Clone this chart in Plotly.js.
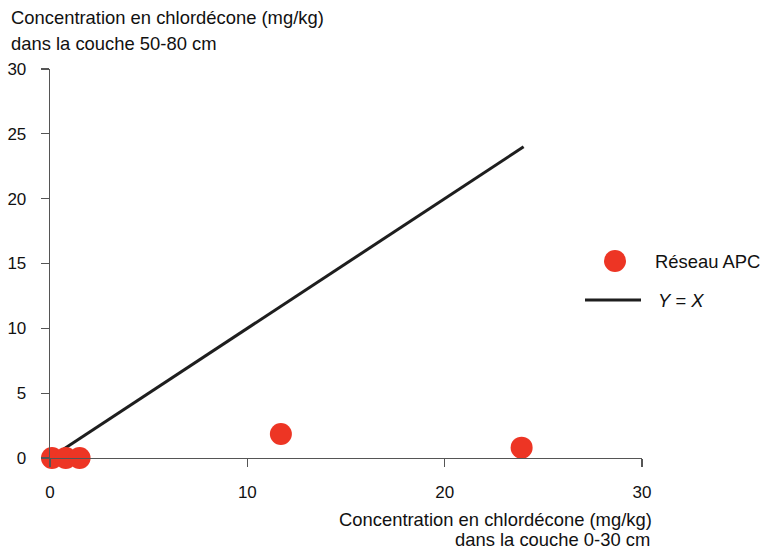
<!DOCTYPE html>
<html>
<head>
<meta charset="utf-8">
<script src="https://cdn.plot.ly/plotly-3.0.1.min.js"></script>
<style>html,body{margin:0;padding:0;background:#fff;}#chart{width:763px;height:552px;}</style>
</head>
<body>
<div id="chart"></div>
<script>
// Data
const xTopsoil = [0.1, 0.8, 1.5, 11.7, 23.9];
const yDeep = [0, 0, 0, 1.85, 0.8];
const lineX = [0.7, 24];
const lineY = [0.7, 24];
const seriesName = "Réseau APC";
const lineName = "Y = X";
const yTitleLines = ["Concentration en chlordécone (mg/kg)", "dans la couche 50-80 cm"];
const xTitleLines = ["Concentration en chlordécone (mg/kg)", "dans la couche 0-30 cm"];
const tickVals = [0, 5, 10, 15, 20, 25, 30];
const xTickVals = [0, 10, 20, 30];

const W = 763, H = 552;
const M = {l: 50, r: 121, t: 69, b: 94};
const pw = W - M.l - M.r, ph = H - M.t - M.b;
const px = x => (x - M.l) / pw;
const py = y => (H - M.b - y) / ph;

const red = "#ED3524";
const font = "Liberation Sans, Arial, Helvetica, sans-serif";

const traces = [
  {x: lineX, y: lineY, mode: "lines", line: {color: "#1e1e1e", width: 3}, name: lineName, showlegend: false, cliponaxis: false, hoverinfo: "skip"},
  {x: xTopsoil, y: yDeep, mode: "markers", marker: {color: red, size: 22}, name: seriesName, showlegend: false, cliponaxis: false}
];

const layout = {
  width: W, height: H,
  margin: M,
  paper_bgcolor: "#fff", plot_bgcolor: "#fff",
  font: {family: font, size: 17, color: "#111"},
  showlegend: false,
  xaxis: {range: [0, 30], tickvals: xTickVals, ticktext: xTickVals.map(String), showgrid: false, zeroline: false,
    showline: true, linecolor: "#555", linewidth: 1.3, ticks: "outside", ticklen: 8, tickcolor: "#555", tickwidth: 1.3,
    ticklabelstandoff: 10, tickfont: {size: 17, color: "#111"}, fixedrange: true},
  yaxis: {range: [0, 30], tickvals: tickVals, ticktext: tickVals.map(String), showgrid: false, zeroline: false,
    showline: true, linecolor: "#555", linewidth: 1.3, ticks: "outside", ticklen: 8, tickcolor: "#555", tickwidth: 1.3,
    ticklabelstandoff: 11, tickfont: {size: 17, color: "#111"}, fixedrange: true},
  shapes: [
    {type: "circle", xref: "paper", yref: "paper", x0: px(604), x1: px(626), y0: py(272), y1: py(250), fillcolor: red, line: {width: 0}},
    {type: "line", xref: "paper", yref: "paper", x0: px(585), x1: px(641), y0: py(300), y1: py(300), line: {color: "#1e1e1e", width: 3}}
  ],
  annotations: [
    {xref: "paper", yref: "paper", x: px(9), y: py(18), xanchor: "left", yanchor: "middle", text: yTitleLines[0], showarrow: false, font: {size: 18.4}},
    {xref: "paper", yref: "paper", x: px(9), y: py(43), xanchor: "left", yanchor: "middle", text: yTitleLines[1], showarrow: false, font: {size: 18.4}},
    {xref: "paper", yref: "paper", x: px(654), y: py(519), xanchor: "right", yanchor: "middle", text: xTitleLines[0], showarrow: false, font: {size: 18.4}},
    {xref: "paper", yref: "paper", x: px(651), y: py(539), xanchor: "right", yanchor: "middle", text: xTitleLines[1], showarrow: false, borderpad: 0, font: {size: 18.4}},
    {xref: "paper", yref: "paper", x: px(653), y: py(261), xanchor: "left", yanchor: "middle", text: seriesName, showarrow: false, font: {size: 18.4}},
    {xref: "paper", yref: "paper", x: px(656), y: py(300), xanchor: "left", yanchor: "middle", text: "<i>Y</i> = <i>X</i>", showarrow: false, font: {size: 18.4}}
  ]
};

Plotly.newPlot("chart", traces, layout, {displayModeBar: false, staticPlot: true});
</script>
</body>
</html>
